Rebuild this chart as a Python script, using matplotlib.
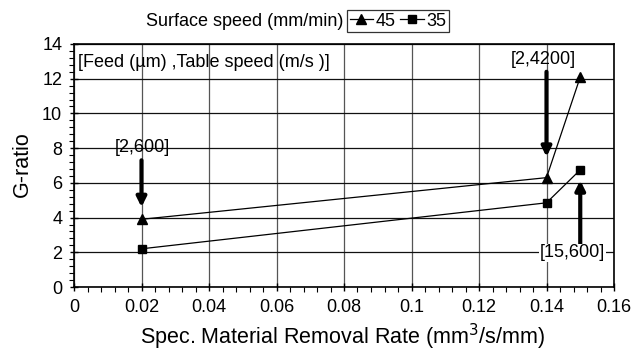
import matplotlib
matplotlib.use("Agg")
import matplotlib.pyplot as plt
from matplotlib.ticker import MultipleLocator
from matplotlib.lines import Line2D

plt.rcParams['font.family'] = ['Liberation Sans', 'DejaVu Sans']

x_vals = [0.02, 0.14, 0.15]
g45 = [3.9, 6.3, 12.1]
g35 = [2.2, 4.85, 6.75]
series_labels = ['45', '35']
x_ticks = [0, 0.02, 0.04, 0.06, 0.08, 0.1, 0.12, 0.14, 0.16]
x_ticklabels = ['0', '0.02', '0.04', '0.06', '0.08', '0.1', '0.12', '0.14', '0.16']

FS = 13
W, H = 639, 351

fig = plt.figure(figsize=(W / 100, H / 100), dpi=100)
ax = fig.add_axes([74 / W, 1 - 287 / H, 540 / W, 243 / H])

ax.plot(x_vals, g45, color='black', lw=0.9, marker='^', ms=7, zorder=5)
ax.plot(x_vals, g35, color='black', lw=0.9, marker='s', ms=6, zorder=5)

ax.set_xlim(0, 0.16)
ax.set_ylim(0, 14)
ax.set_xticks(x_ticks)
ax.set_xticklabels(x_ticklabels)
ax.xaxis.set_minor_locator(MultipleLocator(0.004))
ax.yaxis.set_major_locator(MultipleLocator(2))
ax.yaxis.set_minor_locator(MultipleLocator(0.4))
ax.tick_params(axis='both', which='major', direction='inout', length=6, width=1, labelsize=FS)
ax.tick_params(axis='x', which='major', pad=6)
ax.tick_params(axis='y', which='major', pad=5.5)
ax.tick_params(axis='both', which='minor', direction='out', length=3.5, width=0.8)
ax.grid(axis='x', which='major', color='#555555', lw=0.9)
ax.grid(axis='y', which='major', color='#111111', lw=0.9)
for s in ax.spines.values():
    s.set_linewidth(1.2)

ax.set_xlabel('Spec. Material Removal Rate (mm$^3$/s/mm)', fontsize=15.5)
ax.xaxis.label.set_va('baseline')
ax.xaxis.set_label_coords((343 - 74) / 540, (287 - 344) / 243)
ax.set_ylabel('G-ratio', fontsize=15.5)
ax.yaxis.label.set_va('center')
ax.yaxis.set_label_coords((22 - 74) / 540, (287 - 164.5) / 243)

ax.text(0.0012, 12.96, '[Feed (µm) ,Table speed (m/s )]', fontsize=FS, va='center', ha='left')

arrow_kw = dict(arrowstyle='-|>', color='black', lw=3.0, mutation_scale=14, shrinkA=0, shrinkB=0)
ax.annotate('', xy=(0.02, 4.6), xytext=(0.02, 7.3), arrowprops=arrow_kw)
ax.text(0.0203, 8.06, '[2,600]', fontsize=FS, ha='center', va='center')
ax.annotate('', xy=(0.14, 7.5), xytext=(0.14, 12.4), arrowprops=arrow_kw)
ax.text(0.139, 13.1, '[2,4200]', fontsize=FS, ha='center', va='center')
ax.annotate('', xy=(0.15, 6.15), xytext=(0.15, 2.4), arrowprops=arrow_kw)
ax.text(0.1477, 1.96, '[15,600]', fontsize=FS, ha='center', va='center',
        bbox=dict(facecolor='white', edgecolor='none', pad=0.5))

handles = [Line2D([], [], color='black', lw=0.9, marker='^', ms=6.5),
           Line2D([], [], color='black', lw=0.9, marker='s', ms=5.5)]
leg = fig.legend(handles, series_labels, ncol=2, loc='center left',
                 bbox_to_anchor=(347 / W, 1 - 21 / H), fontsize=FS,
                 frameon=True, fancybox=False, handlelength=1.3, handletextpad=0.15,
                 columnspacing=0.25, borderpad=0.15, borderaxespad=0)
leg.get_frame().set_edgecolor('black')
leg.get_frame().set_linewidth(0.9)
fig.text(343 / W, 1 - 21 / H, 'Surface speed (mm/min)', fontsize=FS, ha='right', va='center')

fig.savefig('out.png', dpi=100)
